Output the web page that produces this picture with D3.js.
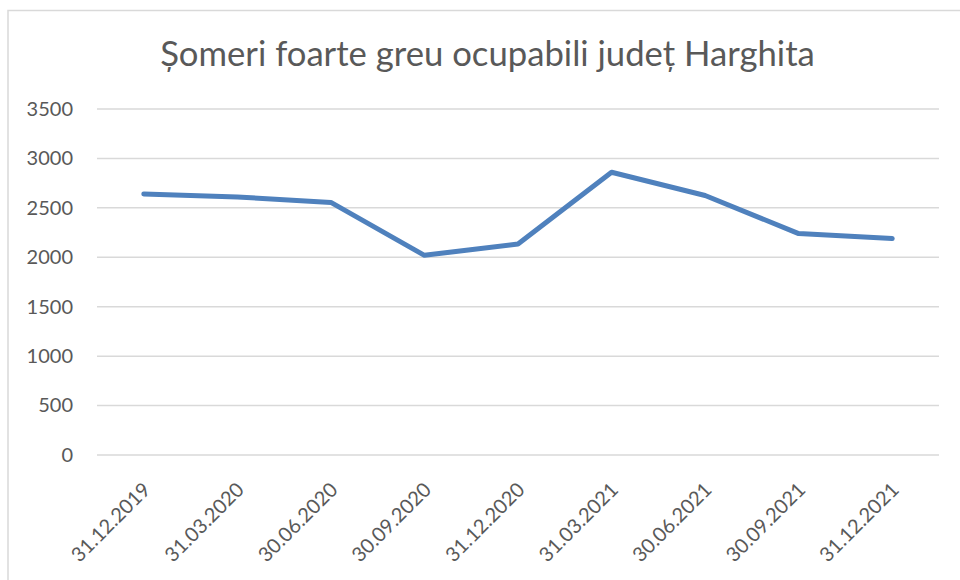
<!DOCTYPE html>
<html>
<head>
<meta charset="utf-8">
<script src="https://cdn.jsdelivr.net/npm/d3@7"></script>
<style>
  html, body { margin: 0; padding: 0; background: #fff; }
  svg { display: block; }
  text { font-family: Lato, "Open Sans", sans-serif; fill: #595959; }
</style>
</head>
<body>
<svg id="chart" width="960" height="580"></svg>
<script>
const title = "Șomeri foarte greu ocupabili județ Harghita";
const categories = ["31.12.2019", "31.03.2020", "30.06.2020", "30.09.2020", "31.12.2020",
                    "31.03.2021", "30.06.2021", "30.09.2021", "31.12.2021"];
const values = [2640, 2610, 2555, 2020, 2135, 2860, 2625, 2240, 2190];
const yTicks = [0, 500, 1000, 1500, 2000, 2500, 3000, 3500];

const svg = d3.select("#chart");
const W = 960, H = 580;
const plot = { left: 97, right: 939, top: 109, bottom: 455 };

// chart border
svg.append("rect")
  .attr("x", 8).attr("y", 10.5)
  .attr("width", W + 10).attr("height", H + 10)
  .attr("fill", "#fff")
  .attr("stroke", "#d9d9d9").attr("stroke-width", 1.5);

const x = d3.scaleBand().domain(categories).range([plot.left, plot.right]);
const y = d3.scaleLinear().domain([0, 3500]).range([plot.bottom, plot.top]);

// gridlines
svg.append("g").selectAll("line").data(yTicks).join("line")
  .attr("x1", plot.left).attr("x2", plot.right)
  .attr("y1", d => y(d)).attr("y2", d => y(d))
  .attr("stroke", "#d9d9d9").attr("stroke-width", 1.5);

// y axis labels
const yAxis = d3.axisLeft(y).tickValues(yTicks).tickFormat(d3.format("d")).tickSize(0).tickPadding(0);
const gy = svg.append("g").attr("transform", `translate(73,0)`).call(yAxis);
gy.select(".domain").remove();
gy.selectAll("text").style("font-size", "20px").attr("fill", "#595959")
  .style("font-family", "Lato, sans-serif");

// x axis labels
const xAxis = d3.axisBottom(x).tickSize(0).tickPadding(0);
const gx = svg.append("g").attr("transform", `translate(0,${plot.bottom})`).call(xAxis);
gx.select(".domain").remove();
gx.selectAll("text")
  .style("font-size", "20px").attr("fill", "#595959")
  .style("font-family", "Lato, sans-serif")
  .attr("text-anchor", "end")
  .attr("dy", "0.35em").attr("y", 0)
  .attr("transform", "translate(3,31) rotate(-45)");

// line
const line = d3.line().x((d, i) => x(categories[i]) + x.bandwidth() / 2).y(d => y(d));
svg.append("path").datum(values)
  .attr("d", line)
  .attr("fill", "none")
  .attr("stroke", "#4f81bd")
  .attr("stroke-width", 5)
  .attr("stroke-linecap", "round")
  .attr("stroke-linejoin", "round");

// title
const t = svg.append("text")
  .attr("x", 487.5).attr("y", 66)
  .attr("text-anchor", "middle")
  .style("font-size", "30px")
  .text(title);
const len = t.node().getComputedTextLength();
t.style("font-size", (30 * 655 / len) + "px");
</script>
</body>
</html>
